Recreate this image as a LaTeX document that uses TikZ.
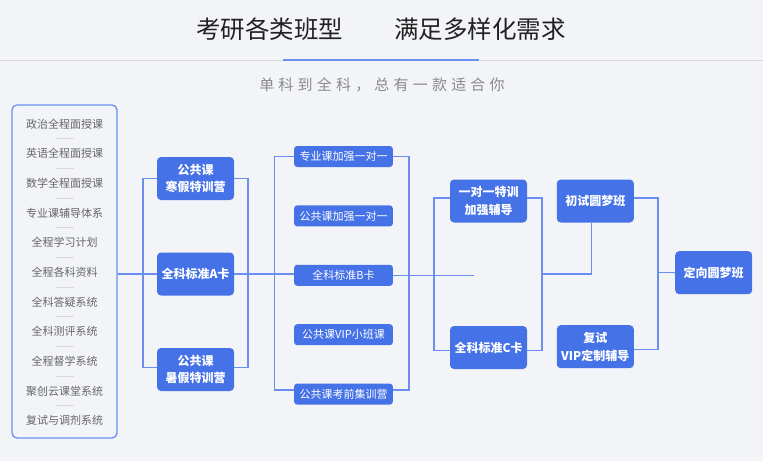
\documentclass[tikz,border=0pt]{standalone}
\usepackage{fontspec}
\setmainfont{Noto Sans CJK SC}
\newfontfamily\subfont[LetterSpace=28]{Noto Sans CJK SC}
\usetikzlibrary{positioning,calc}
\definecolor{bg}{HTML}{F2F4F7}
\definecolor{nodeblue}{HTML}{4672E8}
\definecolor{lineblue}{HTML}{6A8FF0}
\definecolor{itemgray}{HTML}{666666}
\definecolor{subgray}{HTML}{8A8A8A}
\definecolor{titlegray}{HTML}{222222}

\begin{document}
\begin{tikzpicture}[x=1pt, y=-1pt, node distance={59.4pt},
    big/.style = {fill=nodeblue, rounded corners=4pt, text=white, font=\bfseries\fontsize{12}{17.5}\selectfont, minimum width=77pt, minimum height=43pt, inner sep=0pt, align=center},
    small/.style = {fill=nodeblue, rounded corners=3pt, text=white, font=\fontsize{11}{13}\selectfont, minimum width=98.7pt, minimum height=21pt, inner sep=0pt},
    item/.style = {text=itemgray, font=\fontsize{11}{13}\selectfont},
    link/.style = {draw=lineblue, line width=1.5pt}]

    \fill[bg] (0,0) rectangle (763,461);
    \useasboundingbox (0,0) rectangle (763,461);

    % header
    \node[text=titlegray, font=\fontsize{24.5}{28}\selectfont] (title) at (381,29) {考研各类班型\hspace{51pt}满足多样化需求};
    \draw[black!14, line width=1pt] (0,60) -- (763,60);
    \draw[lineblue, line width=1.3pt] (283,60) -- (479,60);
    \node[text=subgray, font=\fontsize{15}{18}\subfont] (sub) at (382,85) {单科到全科，总有一款适合你};

    % left list
    \node[draw=lineblue, line width=1.3pt, rounded corners=5pt, minimum width=105pt, minimum height=333pt] (list) at (64.5,271.5) {};
    \node[item] (i1) at (64.5,124) {政治全程面授课};
    \node[item] (i2) [below of=i1, node distance=29.65pt] {英语全程面授课};
    \node[item] (i3) [below of=i2, node distance=29.65pt] {数学全程面授课};
    \node[item] (i4) [below of=i3, node distance=29.65pt] {专业课辅导体系};
    \node[item] (i5) [below of=i4, node distance=29.65pt] {全程学习计划};
    \node[item] (i6) [below of=i5, node distance=29.65pt] {全程各科资料};
    \node[item] (i7) [below of=i6, node distance=29.65pt] {全科答疑系统};
    \node[item] (i8) [below of=i7, node distance=29.65pt] {全科测评系统};
    \node[item] (i9) [below of=i8, node distance=29.65pt] {全程督学系统};
    \node[item] (i10) [below of=i9, node distance=29.65pt] {聚创云课堂系统};
    \node[item] (i11) [below of=i10, node distance=29.65pt] {复试与调剂系统};
    \foreach \a/\b in {i1/i2, i2/i3, i3/i4, i4/i5, i5/i6, i6/i7, i7/i8, i8/i9, i9/i10, i10/i11}
        \draw[black!15, line width=0.8pt] ($(\a)!0.5!(\b)$) +(-9pt,0) -- +(9pt,0);

    % column 2
    \node[big] (hanjia) at (195.5,178.5) {公共课\\寒假特训营};
    \node[big] (kaA) [below of=hanjia, node distance=95.5pt] {全科标准A卡};
    \node[big] (shujia) [below of=kaA, node distance=95.5pt] {公共课\\暑假特训营};

    % column 3
    \node[small] (zhuanye) at (343.5,156.5) {专业课加强一对一};
    \node[small] (gonggong) [below of=zhuanye] {公共课加强一对一};
    \node[small] (kaB) [below of=gonggong] {全科标准B卡};
    \node[small] (vip) [below of=kaB] {公共课VIP小班课};
    \node[small] (kaoqian) [below of=vip] {公共课考前集训营};

    % column 4
    \node[big] (yidui) at (488.5,201) {一对一特训\\加强辅导};
    \node[big] (kaC) [below of=yidui, node distance=146.5pt] {全科标准C卡};

    % column 5
    \node[big] (chushi) at (595.3,201) {初试圆梦班};
    \node[big] (fushi) [below of=chushi, node distance=145.7pt] {复试\\VIP定制辅导};
    \node[big] (dingxiang) at (713.7,272.7) {定向圆梦班};

    \coordinate (b2l) at (143,0);
    \coordinate (b2r) at (248,0);
    \coordinate (b3l) at (274.3,0);
    \coordinate (b3r) at (409,0);
    \coordinate (kaBend) at (474,0);
    \coordinate (b4l) at (434,0);
    \coordinate (b4r) at (542,0);
    \coordinate (b5r) at (658,0);
    \coordinate (sjL) at ([yshift=2pt]shujia.west);
    \coordinate (sjR) at ([yshift=2pt]shujia.east);
    \coordinate (kqL) at ([yshift=4pt]kaoqian.west);
    \coordinate (kqR) at ([yshift=4pt]kaoqian.east);
    \coordinate (ydL) at ([yshift=3pt]yidui.west);
    \coordinate (ydR) at ([yshift=3pt]yidui.east);
    \coordinate (kcL) at ([yshift=-3pt]kaC.west);
    \coordinate (kcR) at ([yshift=-3pt]kaC.east);
    \coordinate (csR) at ([yshift=3pt]chushi.east);
    \coordinate (fsR) at ([yshift=-3pt]fushi.east);

    \draw[link] (list.east |- kaA) -- (kaA.west);
    \draw[link] (hanjia.west) -- (hanjia.west -| b2l) -- (sjL -| b2l) -- (sjL);
    \draw[link] (hanjia.east) -- (hanjia.east -| b2r) -- (sjR -| b2r) -- (sjR);
    \draw[link] (kaA.east) -- (kaA.east -| kaB.west);
    \draw[link] (zhuanye.west) -- (zhuanye.west -| b3l) -- (kqL -| b3l) -- (kqL);
    \draw[link] (zhuanye.east) -- (zhuanye.east -| b3r) -- (kqR -| b3r) -- (kqR);
    \draw[link] (kaB.east) -- (kaB.east -| kaBend);
    \draw[link] (ydL) -- (ydL -| b4l) -- (kcL -| b4l) -- (kcL);
    \draw[link] (ydR) -- (ydR -| b4r) -- (kcR -| b4r) -- (kcR);
    \draw[link] (b4r |- kaA) -| ([xshift=-4pt]chushi.south);
    \draw[link] (csR) -- (csR -| b5r) -- (fsR -| b5r) -- (fsR);
    \draw[link] (b5r |- dingxiang) -- (dingxiang.west);

\end{tikzpicture}
\end{document}
